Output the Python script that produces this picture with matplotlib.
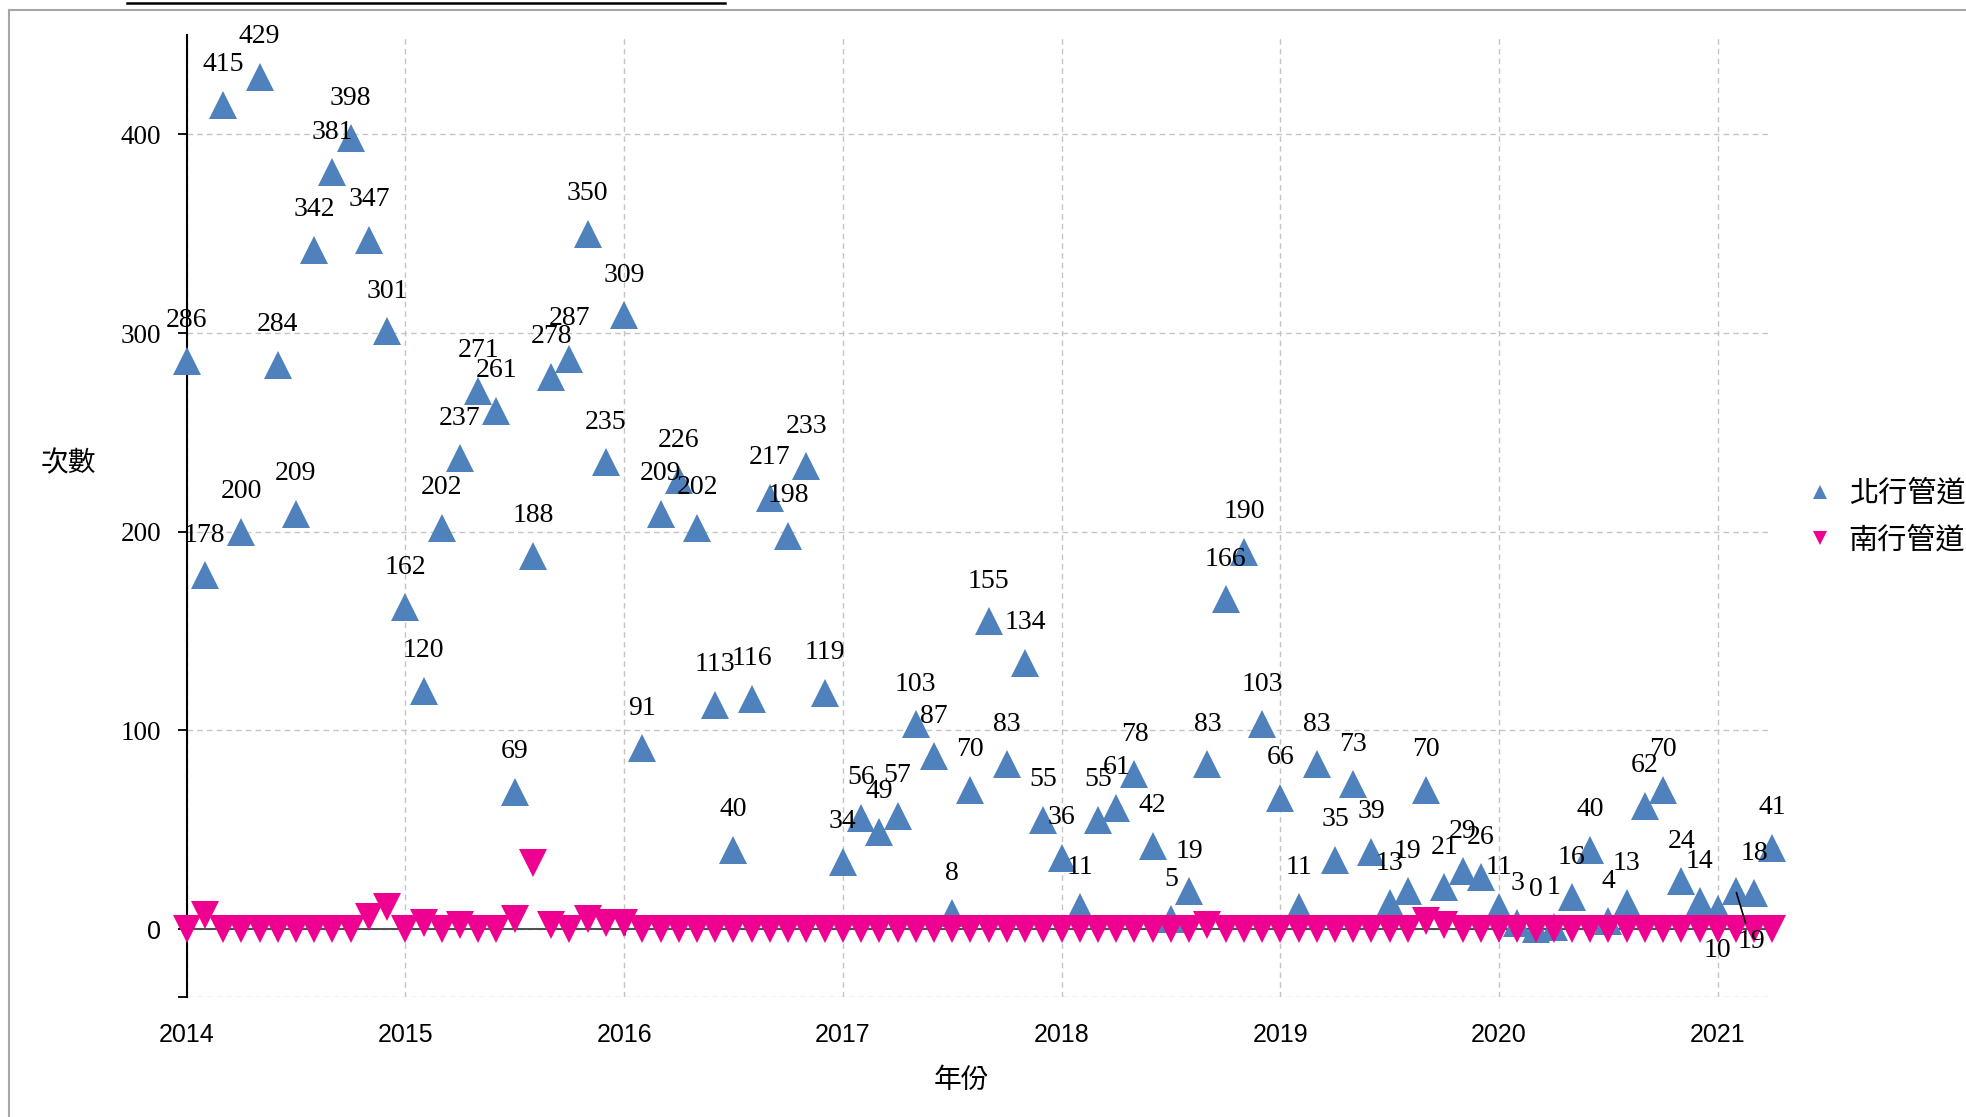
import matplotlib
matplotlib.use("Agg")
import matplotlib.pyplot as plt
from matplotlib.lines import Line2D

plt.rcParams['font.family'] = ['Liberation Serif', 'Noto Sans CJK TC', 'DejaVu Sans']

# ---------------- data ----------------
month_labels = [f"{y}-{m:02d}" for y in range(2014, 2022) for m in range(1, 13)][:88]

north = [
    286, 178, 415, 200, 429, 284, 209, 342, 381, 398, 347, 301,   # 2014
    162, 120, 202, 237, 271, 261, 69, 188, 278, 287, 350, 235,    # 2015
    309, 91, 209, 226, 202, 113, 40, 116, 217, 198, 233, 119,     # 2016
    34, 56, 49, 57, 103, 87, 8, 70, 155, 83, 134, 55,             # 2017
    36, 11, 55, 61, 78, 42, 5, 19, 83, 166, 190, 103,             # 2018
    66, 11, 83, 35, 73, 39, 13, 19, 70, 21, 29, 26,               # 2019
    11, 3, 0, 1, 16, 40, 4, 13, 62, 70, 24, 14,                   # 2020
    10, 19, 18, 41,                                               # 2021
]

south = [
    0, 7, 0, 0, 0, 0, 0, 0, 0, 0, 6, 11,      # 2014
    0, 3, 0, 2, 0, 0, 5, 33, 2, 0, 5, 3,      # 2015
    3, 0, 0, 0, 0, 0, 0, 0, 0, 0, 0, 0,       # 2016
    0, 0, 0, 0, 0, 0, 0, 0, 0, 0, 0, 0,       # 2017
    0, 0, 0, 0, 0, 0, 0, 0, 2, 0, 0, 0,       # 2018
    0, 0, 0, 0, 0, 0, 0, 0, 4, 2, 0, 0,       # 2019
    0, 0, 0, 0, 0, 0, 0, 0, 0, 0, 0, 0,       # 2020
    0, 0, 0, 0,                               # 2021
]

year_ticks = [2014, 2015, 2016, 2017, 2018, 2019, 2020, 2021]
y_ticks = [0, 100, 200, 300, 400]
series_names = ['北行管道', '南行管道']
y_label = '次數'
x_label = '年份'

# ---------------- figure ----------------
W, H = 1966, 1117
fig = plt.figure(figsize=(W / 100, H / 100), dpi=100)
left, right, top, bottom = 186.6 / W, 1772.5 / W, 1 - 35 / H, 1 - 997 / H
ax = fig.add_axes([left, bottom, right - left, top - bottom])

x = [int(s[:4]) + (int(s[5:]) - 1) / 12 for s in month_labels]

blue = '#4F81BD'
pink = '#EE0090'
ymin, ymax = -34.2, 450

ax.plot(x, north, linestyle='none', marker='^', ms=19.5, color=blue, mew=0,
        clip_on=False, zorder=3, label=series_names[0])
ax.plot(x, south, linestyle='none', marker='v', ms=20, color=pink, mew=0,
        clip_on=False, zorder=4, label=series_names[1])

ax.set_xlim(x[0], x[-1])
ax.set_ylim(ymin, ymax)

# y axis
ax.set_yticks([ymin] + y_ticks)
ax.set_yticklabels([''] + [str(v) for v in y_ticks])
ax.tick_params(axis='y', length=9 * 0.72, width=1.3, direction='out', pad=12,
               labelsize=19.5, colors='black')
for lab in ax.get_yticklabels():
    if lab.get_text() == '0':
        lab.set_fontfamily('Liberation Sans')
        lab.set_fontsize(18)

# x axis
ax.set_xticks(year_ticks)
ax.set_xticklabels([str(v) for v in year_ticks], fontfamily='Liberation Sans')
ax.tick_params(axis='x', length=0, pad=19, labelsize=18)

ax.grid(True, axis='both', linestyle=(0, (4, 3)), color='#C4C4C4', lw=1.0, zorder=0)
ax.set_axisbelow(True)

for s in ['top', 'right', 'bottom']:
    ax.spines[s].set_visible(False)
ax.spines['left'].set_color('black')
ax.spines['left'].set_linewidth(1.5)

ax.axhline(0, color='#404040', lw=1.3, zorder=2)

# small tick marks on the zero line (no labels)
sec = ax.secondary_xaxis((0 - ymin) / (ymax - ymin))
sec.set_xticks(year_ticks[1:])
sec.set_xticklabels([''] * len(year_ticks[1:]))
sec.xaxis.set_ticks_position('bottom')
sec.tick_params(axis='x', length=4, width=2, direction='out', colors='black')
for s in sec.spines.values():
    s.set_visible(False)

# data labels
special = {84: (0, -30), 85: (10.8, -36)}
for i, (xi, v) in enumerate(zip(x, north)):
    off = special.get(i, (0, 28.8))
    kw = {}
    if i == 85:
        kw['arrowprops'] = dict(arrowstyle='-', color='black', lw=1.2,
                                shrinkA=2, shrinkB=1)
    ax.annotate(str(v), (xi, v), xytext=off, textcoords='offset points',
                ha='center', va='center', fontsize=20, color='black',
                fontfamily='Liberation Serif', zorder=6, annotation_clip=False, **kw)

# axis titles
fig.text(68 / W, 1 - 463 / H, y_label, ha='center', va='center', fontsize=20,
         fontfamily='Noto Sans CJK TC')
fig.text(961 / W, 1 - 1080 / H, x_label, ha='center', va='center', fontsize=20,
         fontfamily='Noto Sans CJK TC')

# legend
handles = [Line2D([], [], linestyle='none', marker='^', ms=10, color=blue, mew=0),
           Line2D([], [], linestyle='none', marker='v', ms=10, color=pink, mew=0)]
fig.legend(handles, series_names, loc='center left',
           bbox_to_anchor=(1805 / W, 1 - 517 / H), frameon=False,
           prop={'family': 'Noto Sans CJK TC', 'size': 21},
           handlelength=1.0, handletextpad=0.5, labelspacing=0.55, borderpad=0,
           borderaxespad=0)

# outer frame and cut-off title underline
fig.add_artist(Line2D([9 / W, 9 / W], [0, 1 - 10 / H], transform=fig.transFigure,
                      color='#A6A6A6', lw=1.5))
fig.add_artist(Line2D([9 / W, 1], [1 - 10 / H, 1 - 10 / H], transform=fig.transFigure,
                      color='#A6A6A6', lw=1.5))
fig.add_artist(Line2D([127 / W, 725 / W], [1 - 3 / H, 1 - 3 / H], transform=fig.transFigure,
                      color='black', lw=1.8))

fig.savefig('out.png', dpi=100)
